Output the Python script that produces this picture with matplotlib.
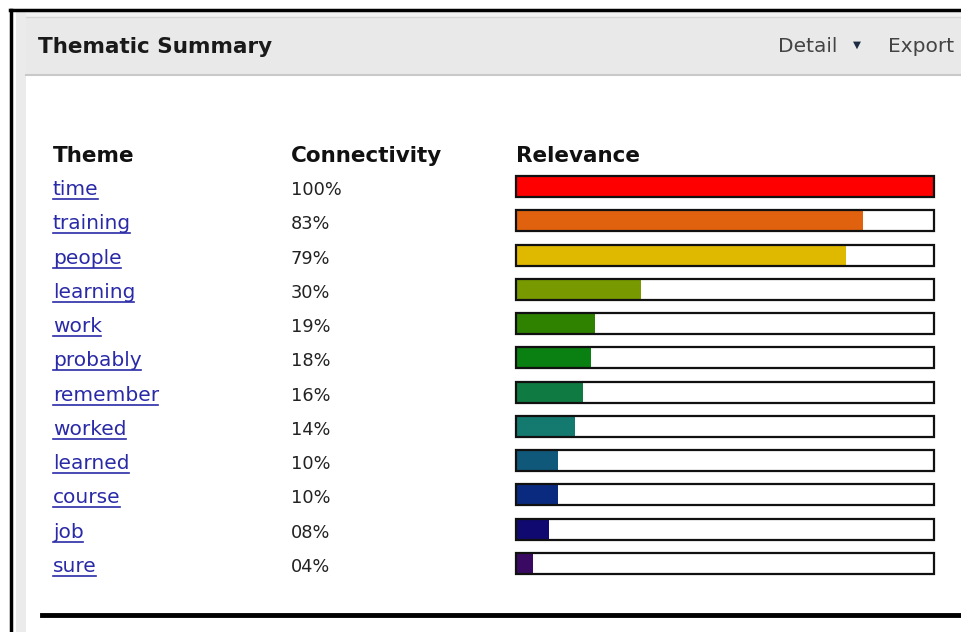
import matplotlib.pyplot as plt
from matplotlib.patches import Rectangle
from matplotlib.lines import Line2D
from matplotlib.transforms import blended_transform_factory, IdentityTransform

# theme table
themes = ["time", "training", "people", "learning", "work", "probably",
          "remember", "worked", "learned", "course", "job", "sure"]
connectivity = [100, 83, 79, 30, 19, 18, 16, 14, 10, 10, 8, 4]
bar_colors = ["#ff0000", "#e0620f", "#dfb800", "#789a00", "#2e8200", "#0a7f12",
              "#0f7a42", "#147a70", "#10587a", "#0a2a80", "#100a70", "#3a0a62"]

W, H = 962, 632
fig = plt.figure(figsize=(W / 100, H / 100), dpi=100)
fig.patch.set_facecolor("white")

# panel chrome drawn in pixel coordinates
bg = fig.add_axes([0, 0, 1, 1])
bg.set_xlim(0, W)
bg.set_ylim(H, 0)
bg.axis("off")
bg.add_patch(Rectangle((16, 11), W - 16, H - 11, color="#ebebeb", lw=0))
bg.add_patch(Rectangle((26, 11), W - 26, H - 11, color="white", lw=0))
bg.add_patch(Rectangle((26, 11), W - 26, 6, color="#f1f1f1", lw=0))
bg.add_patch(Rectangle((26, 17), W - 26, 57, color="#e9e9e9", lw=0))
bg.plot([26, W], [17, 17], color="#d4d4d4", lw=1)
bg.plot([26, W], [74.5, 74.5], color="#c9c9c9", lw=1.5)
bg.plot([11, 11], [10, H], color="black", lw=2.5)
bg.plot([10, W], [10, 10], color="black", lw=2.5)
bg.plot([42, W], [615, 615], color="black", lw=3.5)

bg.text(38, 47, "Thematic Summary", fontsize=15.5, fontweight="bold",
        color="#1a1a1a", va="center", ha="left")
bg.text(778, 47, "Detail", fontsize=14.5, color="#444444", va="center")
bg.text(857, 45, "\u25bc", fontsize=7.5, color="#1c2c40", va="center", ha="center")
bg.text(888, 47, "Export", fontsize=14.5, color="#444444", va="center")

# column headers
for x, head in [(53, "Theme"), (291, "Connectivity"), (516, "Relevance")]:
    bg.text(x, 162, head, fontsize=15.5, fontweight="bold", color="#111111",
            va="baseline", ha="left")

# relevance bars
ax = fig.add_axes([516 / W, 1 - 580.6 / H, 418 / W, 411.2 / H])
ax.set_xlim(0, 100)
ax.set_ylim(len(themes) - 0.5, -0.5)
ax.axis("off")
rows = list(range(len(themes)))
bh = 0.61
ax.barh(rows, connectivity, height=bh, color=bar_colors, lw=0)
ax.barh(rows, [100] * len(rows), height=bh, facecolor="none",
        edgecolor="#111111", lw=1.6, clip_on=False)

# theme names and connectivity values
row_px = 411.2 / len(themes)
base = 8.5 / row_px
tr = blended_transform_factory(bg.transData, ax.transData)
labels = []
for i, (name, val) in enumerate(zip(themes, connectivity)):
    t = ax.text(53, i + base, name, transform=tr, fontsize=14.5,
                color="#2a2aa8", va="baseline", ha="left")
    labels.append((i, t))
    ax.text(291, i + base, f"{val:02d}%", transform=tr, fontsize=12.8,
            color="#222222", va="baseline", ha="left")

# underline the theme links (x in display pixels, y in row units)
fig.canvas.draw()
renderer = fig.canvas.get_renderer()
ul = blended_transform_factory(IdentityTransform(), ax.transData)
for i, t in labels:
    bb = t.get_window_extent(renderer)
    yu = i + base + 4 / row_px
    ax.add_line(Line2D([bb.x0, bb.x1 - 1], [yu, yu], transform=ul,
                       color="#2a2aa8", lw=1.2, clip_on=False))

fig.savefig("out.png", dpi=100)
